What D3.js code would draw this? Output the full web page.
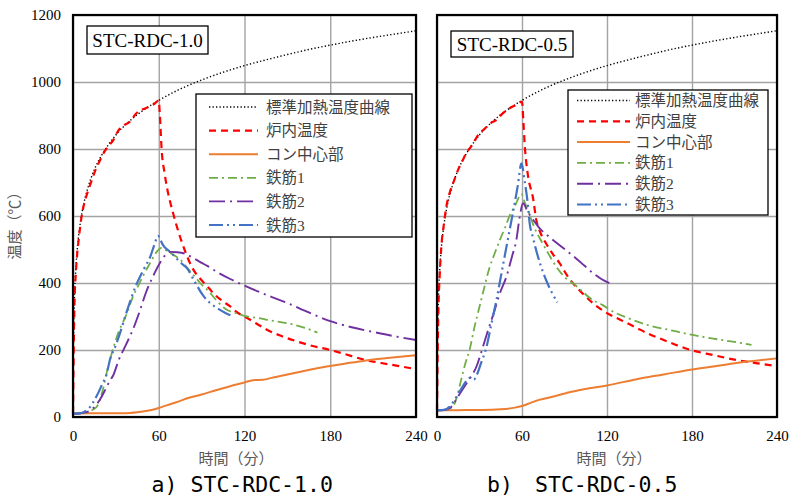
<!DOCTYPE html>
<html>
<head>
<meta charset="utf-8">
<script src="https://cdn.jsdelivr.net/npm/d3@7"></script>
<style>
  body { margin: 0; background: #fff; }
  svg { display: block; }
</style>
</head>
<body>
<div id="chart"></div>
<script>
// time (min), temperature (°C)
const stdCurve = [[0,20],[0.25,185],[0.5,261],[1,349],[2,444],[3,502],[5,576],[7.5,636],[10,678],[15,739],[20,781],[25,814],[30,842],[40,885],[50,918],[60,945],[75,979],[90,1006],[105,1029],[120,1049],[135,1066],[150,1082],[165,1097],[180,1110],[195,1122],[210,1133],[225,1143],[240,1153]];

// a) STC-RDC-1.0
const furnaceA = [[0,10],[0.5,200],[1,330],[2,430],[3,490],[4,530],[6,598],[8,640],[10,668],[13,705],[16,740],[19,767],[22,792],[25,810],[28,825],[31,850],[33,862],[36,872],[40,882],[44,905],[47,916],[50,920],[54,928],[57,935],[60,945],[60.8,900],[62,800],[64,730],[66,680],[70,609],[74,550],[78,500],[82,458],[86,428],[90,408],[95,385],[100,362],[105,345],[110,330],[115,312],[120,300],[128,280],[135,262],[145,243],[155,228],[165,215],[180,200],[190,188],[205,170],[220,158],[240,143]];
const concreteA = [[0,10],[10,11],[20,11],[30,11],[35,11],[40,12],[45,14],[50,17],[55,21],[60,27],[65,34],[70,41],[75,48],[80,56],[90,67],[100,80],[110,92],[120,103],[126,110],[133,111],[140,118],[150,127],[160,136],[170,145],[180,152],[190,159],[205,169],[220,176],[240,184]];
const rebar1A = [[0,10],[5,11],[10,14],[14,22],[17,33],[21,83],[24,140],[28,203],[32,255],[37,302],[42,360],[46,395],[49,421],[54,460],[58,490],[62,505],[66,495],[70,485],[75,470],[80,445],[85,420],[89,400],[95,375],[100,350],[107,322],[114,310],[120,302],[130,295],[140,287],[147,282],[155,275],[163,265],[171,252]];
const rebar2A = [[0,10],[5,11],[10,15],[15,30],[19,53],[23,85],[26,110],[28,123],[32,170],[37,215],[42,262],[47,320],[51,371],[56,420],[61,461],[65,485],[68,493],[73,492],[78,488],[84,475],[90,460],[94,451],[100,435],[110,412],[120,392],[135,365],[150,340],[165,312],[180,286],[195,268],[210,254],[225,241],[240,230]];
const rebar3A = [[0,10],[5,11],[9,18],[12,30],[14,43],[18,75],[21,103],[23,120],[26,173],[30,215],[33,252],[38,320],[44,392],[50,445],[54,478],[57,515],[59.5,541],[61,530],[63,513],[68,493],[72,475],[76,458],[80,443],[85,405],[91,363],[96,340],[102,322],[107,310],[112,300]];

// b) STC-RDC-0.5
const furnaceB = [[0,20],[0.5,200],[1,320],[2,430],[3,504],[5,580],[6.6,628],[9,670],[12,705],[14.8,737],[18,765],[21,790],[24,807],[27,828],[30,847],[33,858],[36,870],[39,880],[42,887],[46,905],[51,921],[55,930],[60,941],[61,880],[62,807],[64,727],[68,648],[70,590],[73,550],[77,518],[82,485],[86.6,459],[91,428],[96,399],[102,372],[110,340],[120,310],[130,289],[140,268],[150,247],[160,230],[170,213],[180,199],[195,185],[209,172],[225,161],[240,152]];
const concreteB = [[0,20],[10,20],[20,21],[32,21],[45,23],[55,28],[60,33],[66,42],[72,51],[80,59],[91,71],[100,80],[110,87],[120,94],[141,113],[160,127],[180,142],[195,151],[209,160],[225,168],[240,175]];
const rebar1B = [[0,20],[5,21],[9,25],[11.3,31],[14,60],[17,110],[20,160],[23,200],[26,260],[30,329],[33,380],[37,445],[40.7,488],[45,535],[48,565],[51,598],[55,630],[59.6,665],[62,640],[65,608],[69,563],[73,530],[77,500],[81,470],[85,444],[90,418],[96,399],[100,385],[108,355],[117,334],[125,313],[135,295],[150,273],[165,259],[178,247],[195,234],[210,224],[222,215]];
const rebar2B = [[0,20],[5,21],[10,30],[14.8,61],[20,95],[24,120],[27.8,150],[31,190],[35,245],[40.7,319],[44,365],[49,419],[53,480],[56,528],[58.4,598],[60.7,638],[64,613],[68,588],[72.5,563],[80,535],[91,498],[98,474],[104,452],[110,430],[116,412],[122,399]];
const rebar3B = [[0,20],[5,21],[9,31],[13,55],[18,90],[21,110],[24,118],[26,112],[28,125],[31,160],[35,210],[38,270],[42,350],[46,440],[50,530],[53.6,610],[57,690],[59.6,757],[62,700],[64,640],[65.4,579],[67.8,535],[70,498],[73,455],[77,409],[81,372],[85,342]];

const seriesNames = ["標準加熱温度曲線", "炉内温度", "コン中心部", "鉄筋1", "鉄筋2", "鉄筋3"];
const xTicks = [0, 60, 120, 180, 240];
const yTicks = [0, 200, 400, 600, 800, 1000, 1200];
const panelLabels = ["STC-RDC-1.0", "STC-RDC-0.5"];
const captionLetters = ["a)", "b)"];

// line looks, in legend order
const looks = [
  { color: "#000000", width: 1.4, dash: "1.3,2.2" },
  { color: "#FF0000", width: 2.2, dash: "7,5" },
  { color: "#ED7D31", width: 2, dash: null },
  { color: "#70AD47", width: 1.8, dash: "9,4,2,4" },
  { color: "#7030A0", width: 1.9, dash: "16,5,2,5" },
  { color: "#4472C4", width: 2.2, dash: "14,4,2,4,2,4" }
];

const svg = d3.select("#chart").append("svg")
  .attr("width", 789)
  .attr("height", 497);

const panels = [
  { series: [stdCurve, furnaceA, concreteA, rebar1A, rebar2A, rebar3A],
    left: 73, right: 416, top: 15, bottom: 417, showY: true,
    box: { x: 87, y: 26, w: 121, h: 28 },
    legend: { x: 196, y: 94, w: 216, h: 143, row0: 107, step: 23.6, lx0: 209, lx1: 258, tx: 266 },
    xTitle: 236, capA: 151.5, capS: 190.5 },
  { series: [stdCurve, furnaceB, concreteB, rebar1B, rebar2B, rebar3B],
    left: 437, right: 777, top: 15, bottom: 417, showY: false,
    box: { x: 451, y: 31, w: 122, h: 26 },
    legend: { x: 568, y: 90, w: 200, h: 125, row0: 100.5, step: 20.8, lx0: 577, lx1: 630, tx: 635 },
    xTitle: 614, capA: 487, capS: 535 }
];

const serif = "'Liberation Serif', 'Times New Roman', serif";
const legendFont = "'Liberation Serif', 'Noto Sans CJK JP', serif";
const cjk = "'Noto Sans CJK JP', sans-serif";

panels.forEach((p, i) => {
  const x = d3.scaleLinear().domain([0, 240]).range([p.left, p.right]);
  const y = d3.scaleLinear().domain([0, 1200]).range([p.bottom, p.top]);
  const g = svg.append("g");

  // gridlines
  g.append("g")
    .attr("transform", `translate(0,${p.bottom})`)
    .call(d3.axisBottom(x).tickValues(xTicks).tickSize(-(p.bottom - p.top)).tickFormat(""))
    .call(a => a.select(".domain").remove())
    .call(a => a.selectAll("line").attr("stroke", "#a3a3a3").attr("stroke-width", 1.4));
  g.append("g")
    .attr("transform", `translate(${p.left},0)`)
    .call(d3.axisLeft(y).tickValues(yTicks).tickSize(-(p.right - p.left)).tickFormat(""))
    .call(a => a.select(".domain").remove())
    .call(a => a.selectAll("line").attr("stroke", "#a3a3a3").attr("stroke-width", 1.4));

  // tick labels
  g.append("g")
    .attr("transform", `translate(0,${p.bottom})`)
    .call(d3.axisBottom(x).tickValues(xTicks).tickSize(0).tickPadding(13).tickFormat(d3.format("d")))
    .call(a => a.select(".domain").remove())
    .call(a => a.selectAll("text").style("font-family", serif).style("font-size", "15px").attr("fill", "#000"));
  if (p.showY) {
    g.append("g")
      .attr("transform", `translate(${p.left},0)`)
      .call(d3.axisLeft(y).tickValues(yTicks).tickSize(0).tickPadding(12).tickFormat(d3.format("d")))
      .call(a => a.select(".domain").remove())
      .call(a => a.selectAll("text").style("font-family", serif).style("font-size", "15px").attr("fill", "#000"));
  }

  // lines
  const line = d3.line()
    .x(d => x(d[0]))
    .y(d => y(d[1]))
    .curve(d3.curveMonotoneX);
  p.series.forEach((s, k) => {
    g.append("path")
      .datum(s)
      .attr("d", line)
      .attr("fill", "none")
      .attr("stroke", looks[k].color)
      .attr("stroke-width", looks[k].width)
      .attr("stroke-dasharray", looks[k].dash);
  });

  // frame
  g.append("rect")
    .attr("x", p.left).attr("y", p.top)
    .attr("width", p.right - p.left).attr("height", p.bottom - p.top)
    .attr("fill", "none").attr("stroke", "#000").attr("stroke-width", 2.2);

  // panel label box
  g.append("rect")
    .attr("x", p.box.x).attr("y", p.box.y).attr("width", p.box.w).attr("height", p.box.h)
    .attr("fill", "#fff").attr("stroke", "#000").attr("stroke-width", 1.3);
  g.append("text")
    .attr("x", p.box.x + p.box.w / 2).attr("y", p.box.y + p.box.h / 2 + 6.5)
    .attr("text-anchor", "middle")
    .style("font-family", serif).style("font-size", "19px")
    .text(panelLabels[i]);

  // legend
  const L = p.legend;
  g.append("rect")
    .attr("x", L.x).attr("y", L.y).attr("width", L.w).attr("height", L.h)
    .attr("fill", "#fff").attr("stroke", "#000").attr("stroke-width", 1.3);
  seriesNames.forEach((name, k) => {
    const cy = L.row0 + k * L.step;
    g.append("line")
      .attr("x1", L.lx0).attr("x2", L.lx1).attr("y1", cy).attr("y2", cy)
      .attr("stroke", looks[k].color)
      .attr("stroke-width", looks[k].width)
      .attr("stroke-dasharray", looks[k].dash);
    g.append("text")
      .attr("x", L.tx).attr("y", cy + 5.5)
      .style("font-family", legendFont).style("font-size", "15.5px")
      .attr("fill", "#404040")
      .text(name);
  });

  // x title
  g.append("text")
    .attr("x", p.xTitle).attr("y", 464)
    .attr("text-anchor", "middle")
    .style("font-family", cjk).style("font-size", "15px")
    .attr("fill", "#595959")
    .text("時間（分）");

  // caption
  const cap = g.append("text")
    .attr("y", 492)
    .style("font-family", "'DejaVu Sans Mono', monospace").style("font-size", "21.5px")
    .attr("fill", "#000");
  cap.append("tspan").attr("x", p.capA).text(captionLetters[i]);
  cap.append("tspan").attr("x", p.capS).text(panelLabels[i]);
});

// y title
svg.append("text")
  .attr("transform", "translate(20,222) rotate(-90)")
  .attr("text-anchor", "middle")
  .style("font-family", cjk).style("font-size", "15px")
  .attr("fill", "#595959")
  .text("温度（℃）");
</script>
</body>
</html>
